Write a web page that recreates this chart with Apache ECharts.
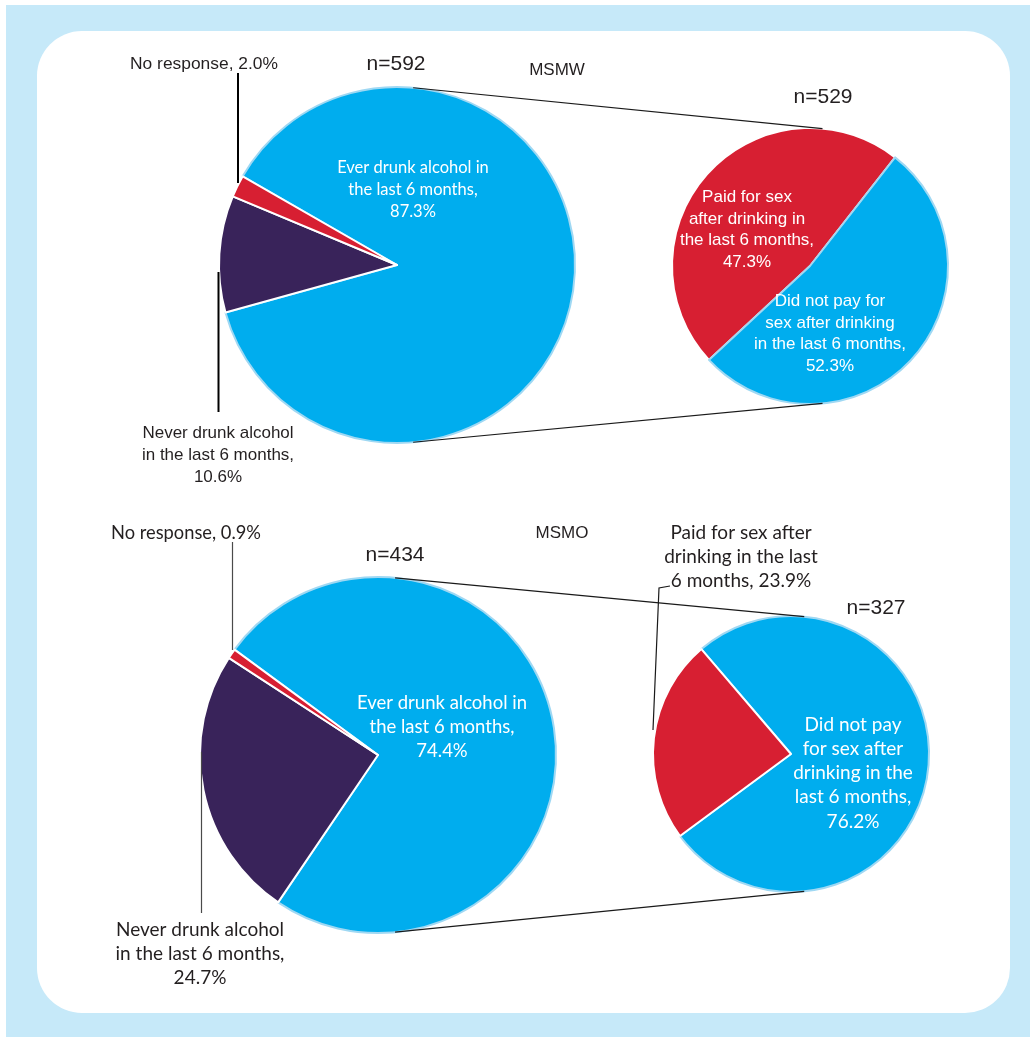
<!DOCTYPE html>
<html>
<head>
<meta charset="utf-8">
<script src="https://cdn.jsdelivr.net/npm/echarts@6/dist/echarts.min.js"></script>
<style>
html,body{margin:0;padding:0;background:#ffffff;}
#chart{width:1030px;height:1037px;}
</style>
</head>
<body>
<div id="chart"></div>
<script>
// ---------------- DATA ----------------
const msmwTitle = 'MSMW';
const msmwN = 592;
const msmwCategories = ['Ever drunk alcohol in the last 6 months', 'Never drunk alcohol in the last 6 months', 'No response'];
const msmwValues = [87.3, 10.6, 2.0];
const msmwLabels = ['Ever drunk alcohol in\nthe last 6 months,\n', 'Never drunk alcohol\nin the last 6 months,\n', 'No response, '];

const msmwDrinkN = 529;
const msmwDrinkCategories = ['Paid for sex after drinking in the last 6 months', 'Did not pay for sex after drinking in the last 6 months'];
const msmwDrinkValues = [47.3, 52.3];
const msmwDrinkLabels = ['Paid for sex\nafter drinking in\nthe last 6 months,\n', 'Did not pay for\nsex after drinking\nin the last 6 months,\n'];

const msmoTitle = 'MSMO';
const msmoN = 434;
const msmoCategories = ['Ever drunk alcohol in the last 6 months', 'Never drunk alcohol in the last 6 months', 'No response'];
const msmoValues = [74.4, 24.7, 0.9];
const msmoLabels = ['Ever drunk alcohol in\nthe last 6 months,\n', 'Never drunk alcohol\nin the last 6 months,\n', 'No response, '];

const msmoDrinkN = 327;
const msmoDrinkCategories = ['Did not pay for sex after drinking in the last 6 months', 'Paid for sex after drinking in the last 6 months'];
const msmoDrinkValues = [76.2, 23.9];
const msmoDrinkLabels = ['Did not pay\nfor sex after\ndrinking in the\nlast 6 months,\n', 'Paid for sex after\ndrinking in the last\n6 months, '];

// ---------------- STYLE / LAYOUT ----------------
const BLUE = '#00adee', RED = '#d71f32', PURPLE = '#39235a', EDGE = '#9fd8f3', INK = '#231f20';
const HELV = '"Liberation Sans", Arial, Helvetica, sans-serif';
const MYRIAD = 'Lato, "Open Sans", sans-serif';

function colorFor(name) {
  if (name.indexOf('Never') === 0) return PURPLE;
  if (name.indexOf('No response') === 0 || name.indexOf('Paid') === 0) return RED;
  return BLUE;
}

const layouts = [
  { cats: msmwCategories, vals: msmwValues, labels: msmwLabels, center: [397, 265], r: 178, startAngle: 150.1,
    pos: [
      { x: 413, y: 190, color: '#fff', font: MYRIAD, size: 16.5, lh: 22 },
      { x: 218, y: 455, color: INK, font: HELV, size: 17, lh: 22 },
      { x: 204, y: 64, color: INK, font: HELV, size: 17.4, lh: 22 }
    ] },
  { cats: msmwDrinkCategories, vals: msmwDrinkValues, labels: msmwDrinkLabels, center: [810, 266], r: 138, startAngle: 222.9,
    pos: [
      { x: 747, y: 230, color: '#fff', font: HELV, size: 17, lh: 21.5 },
      { x: 830, y: 334, color: '#fff', font: HELV, size: 17, lh: 21.5 }
    ] },
  { cats: msmoCategories, vals: msmoValues, labels: msmoLabels, center: [378, 755], r: 178, startAngle: 143.7,
    pos: [
      { x: 442, y: 727, color: '#fff', font: MYRIAD, size: 18.5, lh: 24 },
      { x: 200, y: 954, color: INK, font: MYRIAD, size: 19, lh: 24 },
      { x: 186, y: 533, color: INK, font: MYRIAD, size: 18.3, lh: 24 }
    ] },
  { cats: msmoDrinkCategories, vals: msmoDrinkValues, labels: msmoDrinkLabels, center: [791, 754], r: 138, startAngle: 130.5,
    pos: [
      { x: 853, y: 773, color: '#fff', font: MYRIAD, size: 19, lh: 24.2 },
      { x: 741, y: 557, color: INK, font: MYRIAD, size: 19, lh: 24 }
    ] }
];

const series = layouts.map(function (L, si) {
  return {
    type: 'pie',
    center: L.center,
    radius: [0, L.r],
    startAngle: L.startAngle,
    clockwise: true,
    avoidLabelOverlap: false,
    silent: true,
    animation: false,
    emphasis: { disabled: true },
    labelLine: { show: false },
    data: L.cats.map(function (c, i) {
      const col = colorFor(c);
      const p = L.pos[i];
      return {
        name: c,
        value: L.vals[i],
        itemStyle: { color: col, borderColor: col === BLUE ? EDGE : '#ffffff', borderWidth: 2 },
        label: {
          show: true,
          position: 'inside',
          color: p.color,
          fontFamily: p.font,
          fontSize: p.size,
          lineHeight: p.lh,
          align: 'center',
          formatter: function (q) { return L.labels[q.dataIndex] + q.value.toFixed(1) + '%'; }
        }
      };
    }),
    labelLayout: function (q) {
      const p = L.pos[q.dataIndex];
      return { x: p.x, y: p.y, align: 'center', verticalAlign: 'middle', hideOverlap: false };
    }
  };
});

// connector lines computed from pie geometry
function edgePoint(L, degFromTop, top) {
  const a = degFromTop * Math.PI / 180;
  return [L.center[0] + L.r * Math.sin(a), L.center[1] + (top ? -1 : 1) * L.r * Math.cos(a)];
}
function connector(A, B, off, top) {
  const p1 = edgePoint(A, off, top), p2 = edgePoint(B, off, top);
  return { type: 'line', z: 5, shape: { x1: p1[0], y1: p1[1], x2: p2[0], y2: p2[1] }, style: { stroke: '#1a1a1a', lineWidth: 1.2 } };
}

const graphic = [
  { type: 'rect', z: 0, shape: { x: 6, y: 5, width: 1030, height: 1040 }, style: { fill: '#c6e9f9' } },
  { type: 'rect', z: 1, shape: { x: 37, y: 31, width: 973, height: 982, r: 45 }, style: { fill: '#ffffff' } },
  connector(layouts[0], layouts[1], 5.2, true),
  connector(layouts[0], layouts[1], 5.2, false),
  connector(layouts[2], layouts[3], 5.5, true),
  connector(layouts[2], layouts[3], 5.5, false),
  // leader lines
  { type: 'polyline', z: 5, shape: { points: [[238, 73], [238, 183]] }, style: { stroke: '#000', lineWidth: 2, fill: null } },
  { type: 'polyline', z: 5, shape: { points: [[218.5, 272], [218.5, 412]] }, style: { stroke: '#000', lineWidth: 2, fill: null } },
  { type: 'polyline', z: 5, shape: { points: [[232.5, 542], [232.5, 650]] }, style: { stroke: '#4a4a4a', lineWidth: 1.2, fill: null } },
  { type: 'polyline', z: 5, shape: { points: [[201.5, 752], [201.5, 913]] }, style: { stroke: '#4a4a4a', lineWidth: 1.2, fill: null } },
  { type: 'polyline', z: 5, shape: { points: [[670, 586], [659, 588], [653, 730]] }, style: { stroke: '#1a1a1a', lineWidth: 1.2, fill: null } },
  // n labels and group titles
  { type: 'text', z: 5, x: 396, y: 64, style: { text: 'n=' + msmwN, fill: INK, font: '21px ' + HELV, align: 'center', verticalAlign: 'middle' } },
  { type: 'text', z: 5, x: 823, y: 97, style: { text: 'n=' + msmwDrinkN, fill: INK, font: '21px ' + HELV, align: 'center', verticalAlign: 'middle' } },
  { type: 'text', z: 5, x: 557, y: 70, style: { text: msmwTitle, fill: INK, font: '17px ' + HELV, align: 'center', verticalAlign: 'middle' } },
  { type: 'text', z: 5, x: 395, y: 555, style: { text: 'n=' + msmoN, fill: INK, font: '21px ' + HELV, align: 'center', verticalAlign: 'middle' } },
  { type: 'text', z: 5, x: 876, y: 608, style: { text: 'n=' + msmoDrinkN, fill: INK, font: '21px ' + HELV, align: 'center', verticalAlign: 'middle' } },
  { type: 'text', z: 5, x: 562, y: 533, style: { text: msmoTitle, fill: INK, font: '17px ' + HELV, align: 'center', verticalAlign: 'middle' } }
];

const chart = echarts.init(document.getElementById('chart'), null, { renderer: 'canvas' });
chart.setOption({
  animation: false,
  backgroundColor: '#ffffff',
  graphic: graphic,
  series: series
});
</script>
</body>
</html>
